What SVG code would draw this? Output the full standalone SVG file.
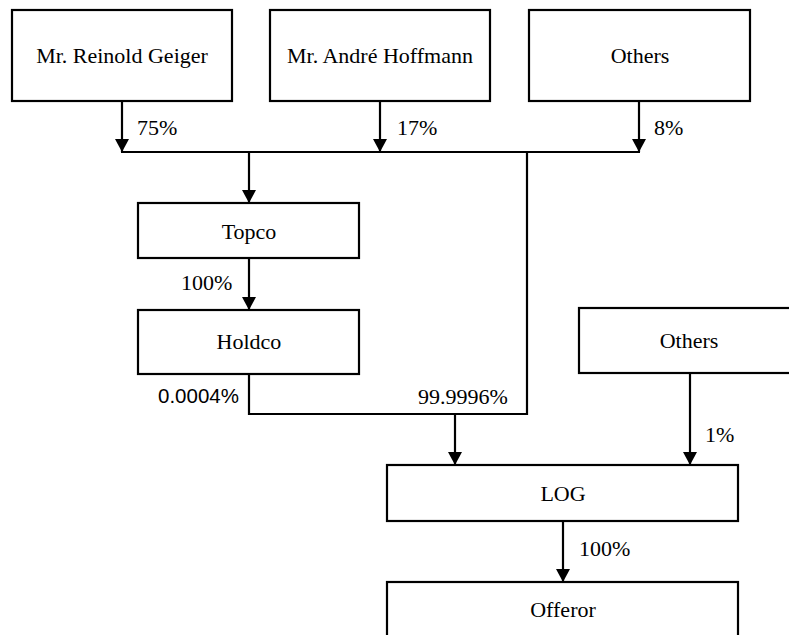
<svg xmlns="http://www.w3.org/2000/svg" width="789" height="635" viewBox="0 0 789 635">
<defs>
<style>
.box{fill:#fff;stroke:#000;stroke-width:2.2}
.t{font-size:22px;fill:#000;text-anchor:middle}
.l{font-size:22px;fill:#000}
.ls{font-size:20.5px;fill:#000}
.c{fill:none;stroke:#000;stroke-width:2.2}
</style>
<marker id="ah" markerWidth="14" markerHeight="14" refX="13" refY="7" orient="auto" markerUnits="userSpaceOnUse">
<path d="M0,0 L13,7 L0,14 Z" fill="#000"/>
</marker>
</defs>
<rect width="789" height="635" fill="#fff"/>
<g font-family="'Liberation Serif', 'Times New Roman', 'DejaVu Serif', serif">
<g id="geiger"><rect class="box" x="12" y="10" width="220" height="91"/><text class="t" x="122" y="63" font-size="22.5">Mr. Reinold Geiger</text></g>
<g id="hoffmann"><rect class="box" x="270" y="10" width="220" height="91"/><text class="t" x="380" y="63">Mr. André Hoffmann</text></g>
<g id="others1"><rect class="box" x="529" y="10" width="221" height="91"/><text class="t" x="640" y="63">Others</text></g>
<g id="topco"><rect class="box" x="138" y="203" width="221" height="55"/><text class="t" x="249" y="239">Topco</text></g>
<g id="holdco"><rect class="box" x="138" y="310" width="221" height="64"/><text class="t" x="249" y="349">Holdco</text></g>
<g id="others2"><rect class="box" x="579" y="308" width="230" height="65"/><text class="t" x="689" y="348">Others</text></g>
<g id="log"><rect class="box" x="387" y="465" width="351" height="56"/><text class="t" x="563" y="501">LOG</text></g>
<g id="offeror"><rect class="box" x="387" y="582" width="351" height="70"/><text class="t" x="563" y="617">Offeror</text></g>
<g id="connectors">
<line class="c" x1="122" y1="101" x2="122" y2="152" marker-end="url(#ah)"/>
<line class="c" x1="380" y1="101" x2="380" y2="152" marker-end="url(#ah)"/>
<line class="c" x1="639" y1="101" x2="639" y2="152" marker-end="url(#ah)"/>
<line class="c" x1="121" y1="152" x2="640" y2="152"/>
<line class="c" x1="249" y1="152" x2="249" y2="203" marker-end="url(#ah)"/>
<line class="c" x1="249" y1="258" x2="249" y2="310" marker-end="url(#ah)"/>
<polyline class="c" points="249,374 249,414 527,414 527,152"/>
<line class="c" x1="455" y1="414" x2="455" y2="465" marker-end="url(#ah)"/>
<line class="c" x1="690" y1="373" x2="690" y2="465" marker-end="url(#ah)"/>
<line class="c" x1="563" y1="521" x2="563" y2="582" marker-end="url(#ah)"/>
</g>
<g id="labels">
<text class="l" x="137" y="135">75%</text>
<text class="l" x="397" y="135">17%</text>
<text class="l" x="654" y="135">8%</text>
<text class="l" x="181" y="290">100%</text>
<text class="ls" x="158" y="403" font-family="'Liberation Sans', Arial, sans-serif">0.0004%</text>
<text class="l" x="418" y="404">99.9996%</text>
<text class="l" x="705" y="442">1%</text>
<text class="l" x="579" y="556">100%</text>
</g>
</g>
</svg>
